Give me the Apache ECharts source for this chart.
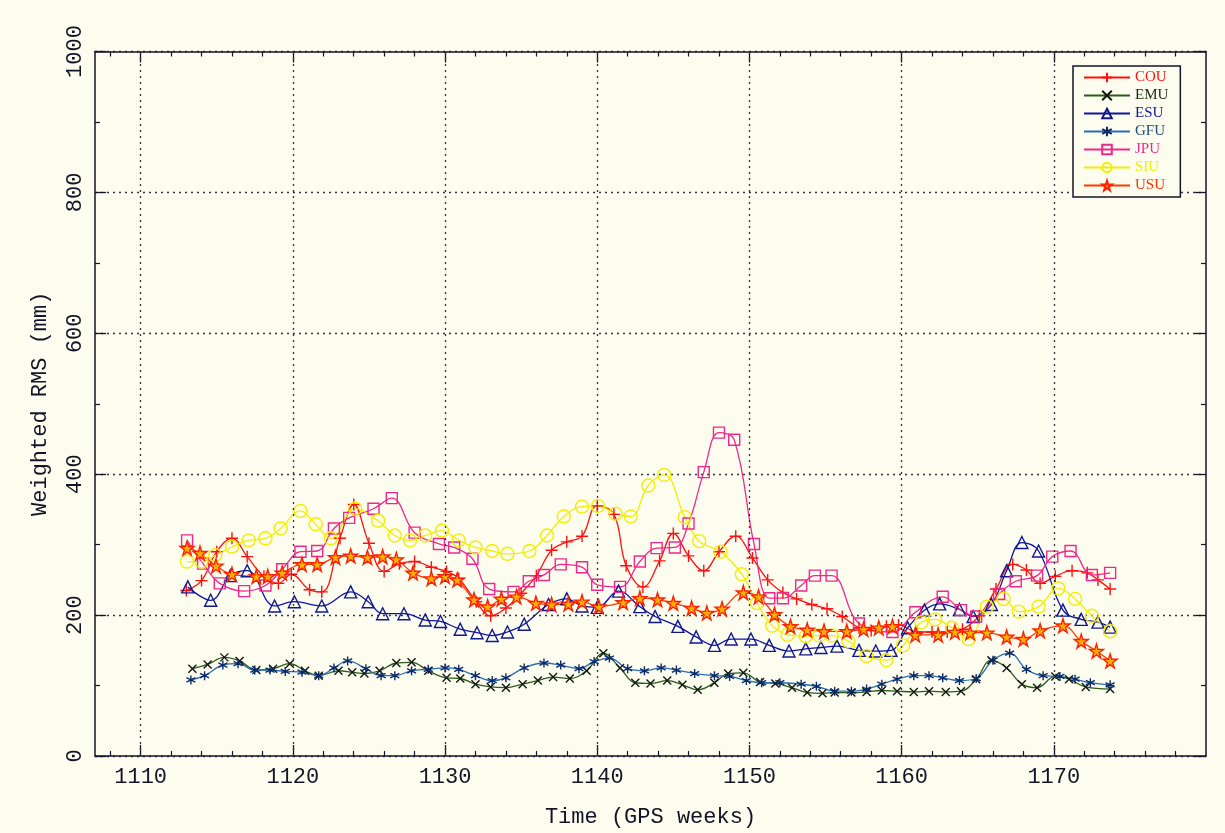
<!DOCTYPE html>
<html>
<head>
<meta charset="utf-8">
<title>Weighted RMS</title>
<script src="https://cdn.jsdelivr.net/npm/echarts@6/dist/echarts.min.js"></script>
<style>
  html, body { margin: 0; padding: 0; background: #fdfdef; }
  #chart { width: 1225px; height: 833px; }
</style>
</head>
<body>
<div id="chart"></div>
<script>
// tick positions (GPS weeks)
const majorWeeks = [1110, 1120, 1130, 1140, 1150, 1160, 1170];
const minorWeeks = [1108, 1112, 1114, 1116, 1118, 1122, 1124, 1126, 1128, 1132, 1134, 1136, 1138,
  1142, 1144, 1146, 1148, 1152, 1154, 1156, 1158, 1162, 1164, 1166, 1168, 1172, 1174, 1176, 1178];

// COU
const couWeeks = [1113.0, 1114.0, 1115.0, 1116.0, 1117.0, 1118.1, 1119.05, 1119.9, 1121.1, 1121.9,
  1123.1, 1124.0, 1125.0, 1126.0, 1127.0, 1128.0, 1129.1, 1130.1, 1130.9, 1132.05,
  1133.0, 1134.0, 1135.0, 1136.0, 1137.0, 1138.0, 1139.0, 1140.0, 1141.1, 1141.9,
  1143.0, 1144.1, 1145.0, 1146.0, 1147.0, 1148.0, 1149.1, 1150.2, 1151.2, 1152.2,
  1153.1, 1154.1, 1155.1, 1156.1, 1157.2, 1158.0, 1159.0, 1159.8, 1161.0, 1162.0,
  1163.0, 1164.0, 1165.1, 1166.2, 1167.3, 1168.2, 1169.1, 1170.1, 1171.2, 1172.2,
  1172.9, 1173.7];
const couRms = [235, 249, 290, 309, 283, 255, 245, 258, 236, 233,
  309, 357, 302, 262, 273, 276, 268, 262, 252, 219,
  199, 210, 231, 256, 292, 304, 312, 355, 343, 270,
  240, 277, 316, 284, 263, 290, 312, 281, 250, 232,
  223, 215, 209, 198, 182, 178, 184, 186, 176, 176,
  176, 180, 199, 237, 272, 264, 245, 255, 263, 260,
  250, 237];

// EMU
const emuWeeks = [1113.4, 1114.4, 1115.5, 1116.5, 1117.6, 1118.7, 1119.8, 1120.8, 1121.7, 1123.0,
  1123.9, 1124.7, 1125.7, 1126.8, 1127.8, 1128.9, 1130.1, 1131.0, 1132.0, 1133.0,
  1134.0, 1135.1, 1136.1, 1137.1, 1138.2, 1139.3, 1140.4, 1141.5, 1142.5, 1143.5,
  1144.6, 1145.6, 1146.6, 1147.7, 1148.6, 1149.6, 1150.7, 1151.7, 1152.8, 1153.8,
  1154.8, 1155.6, 1156.7, 1157.7, 1158.7, 1159.7, 1160.8, 1161.8, 1162.9, 1163.9,
  1164.9, 1165.9, 1166.9, 1167.9, 1168.9, 1170.1, 1171.0, 1172.1, 1173.7];
const emuRms = [124, 130, 140, 135, 122, 124, 131, 121, 114, 121,
  119, 117, 121, 132, 133, 121, 111, 110, 102, 98,
  97, 102, 107, 112, 110, 121, 146, 125, 104, 103,
  107, 101, 94, 104, 117, 118, 105, 103, 97, 90,
  89, 90, 90, 91, 93, 92, 91, 92, 91, 92,
  109, 136, 125, 102, 97, 113, 109, 98, 95];

// ESU
const esuWeeks = [1113.1, 1114.6, 1115.9, 1117.0, 1118.8, 1120.1, 1121.9, 1123.8, 1124.95, 1125.9,
  1127.3, 1128.7, 1129.7, 1131.0, 1132.1, 1133.1, 1134.1, 1135.2, 1136.8, 1138.0,
  1139.0, 1140.0, 1141.4, 1142.8, 1143.8, 1145.3, 1146.5, 1147.7, 1148.8, 1150.1,
  1151.3, 1152.6, 1153.7, 1154.7, 1155.75, 1157.2, 1158.3, 1159.3, 1160.4, 1161.5,
  1162.5, 1163.8, 1164.7, 1165.9, 1166.9, 1167.9, 1169.0, 1170.6, 1171.8, 1172.9,
  1173.7];
const esuRms = [240, 221, 256, 263, 213, 219, 213, 233, 219, 202,
  202, 193, 191, 180, 175, 171, 176, 187, 215, 223,
  213, 211, 234, 212, 198, 184, 169, 157, 166, 166,
  157, 149, 152, 154, 156, 150, 149, 150, 182, 207,
  216, 208, 198, 215, 263, 303, 291, 207, 194, 190,
  183];

// GFU
const gfuWeeks = [1113.3, 1114.2, 1115.4, 1116.4, 1117.5, 1118.5, 1119.5, 1120.6, 1121.7, 1122.7,
  1123.6, 1124.8, 1125.8, 1126.7, 1127.8, 1128.9, 1130.0, 1130.9, 1132.0, 1133.1,
  1134.0, 1135.2, 1136.5, 1137.6, 1138.8, 1139.8, 1140.8, 1142.0, 1143.1, 1144.2,
  1145.2, 1146.4, 1147.7, 1148.7, 1149.8, 1150.8, 1152.0, 1153.4, 1154.4, 1155.6,
  1156.7, 1157.7, 1158.7, 1159.7, 1160.8, 1161.8, 1162.7, 1163.8, 1164.9, 1166.0,
  1167.1, 1168.2, 1169.3, 1170.4, 1171.4, 1172.4, 1173.7];
const gfuRms = [108, 114, 129, 131, 122, 122, 120, 119, 114, 125,
  135, 124, 114, 114, 121, 123, 125, 123, 114, 107,
  111, 125, 132, 129, 124, 134, 139, 124, 121, 125,
  122, 117, 114, 113, 107, 104, 104, 102, 99, 92,
  92, 95, 102, 109, 114, 114, 111, 107, 110, 136,
  146, 123, 114, 113, 109, 104, 101];

// JPU
const jpuWeeks = [1113.05, 1114.1, 1115.2, 1116.8, 1118.2, 1119.3, 1120.5, 1121.6, 1122.7, 1123.7,
  1125.3, 1126.5, 1128.0, 1129.6, 1130.6, 1131.8, 1132.9, 1134.5, 1135.5, 1136.5,
  1137.6, 1139.0, 1140.0, 1141.5, 1142.8, 1143.9, 1145.1, 1146.0, 1147.0, 1148.0,
  1149.0, 1150.3, 1151.3, 1152.2, 1153.4, 1154.3, 1155.4, 1157.2, 1159.4, 1160.9,
  1162.7, 1163.9, 1164.9, 1166.4, 1167.5, 1168.9, 1169.9, 1171.1, 1172.5, 1173.7];
const jpuRms = [306, 273, 245, 234, 242, 265, 290, 291, 323, 338,
  351, 366, 317, 301, 296, 280, 237, 233, 248, 257,
  272, 268, 243, 240, 276, 295, 296, 330, 403, 459,
  449, 301, 224, 224, 242, 256, 256, 188, 176, 204,
  226, 207, 198, 230, 248, 256, 283, 291, 257, 260];

// SIU
const siuWeeks = [1113.05, 1114.0, 1114.9, 1116.0, 1117.1, 1118.2, 1119.2, 1120.5, 1121.5, 1122.5,
  1124.1, 1125.6, 1126.7, 1127.7, 1128.7, 1129.8, 1130.9, 1132.0, 1133.1, 1134.1,
  1135.55, 1136.7, 1137.8, 1139.0, 1140.05, 1141.2, 1142.2, 1143.35, 1144.4, 1145.75,
  1146.7, 1148.1, 1149.5, 1150.5, 1151.5, 1152.5, 1153.7, 1154.6, 1155.4, 1156.5,
  1157.7, 1159.0, 1160.1, 1161.3, 1162.2, 1163.3, 1164.4, 1165.6, 1166.7, 1167.7,
  1169.0, 1170.3, 1171.4, 1172.5, 1173.7];
const siuRms = [276, 276, 285, 297, 306, 309, 323, 348, 329, 309,
  351, 334, 313, 306, 313, 320, 306, 296, 291, 287,
  291, 313, 340, 354, 355, 344, 340, 384, 399, 339,
  305, 290, 258, 217, 185, 172, 170, 171, 171, 163,
  142, 136, 157, 190, 194, 182, 166, 212, 223, 205,
  212, 238, 223, 199, 177];

// USU
const usuWeeks = [1113.05, 1113.9, 1114.95, 1116.0, 1117.6, 1118.35, 1119.3, 1120.6, 1121.6, 1122.8,
  1123.8, 1124.9, 1125.9, 1126.8, 1127.9, 1129.1, 1130.0, 1130.8, 1131.9, 1132.8,
  1133.7, 1134.7, 1135.97, 1137.0, 1138.1, 1139.0, 1140.1, 1141.7, 1142.8, 1143.96,
  1145.0, 1146.2, 1147.2, 1148.2, 1149.6, 1150.6, 1151.65, 1152.7, 1153.8, 1154.9,
  1156.4, 1157.5, 1158.5, 1159.4, 1160.9, 1162.4, 1163.5, 1164.5, 1165.6, 1166.9,
  1168.0, 1169.1, 1170.6, 1171.8, 1172.8, 1173.7];
const usuRms = [295, 288, 270, 258, 255, 255, 260, 272, 272, 282,
  284, 282, 283, 279, 260, 252, 255, 250, 222, 212,
  223, 226, 217, 215, 216, 219, 212, 218, 224, 222,
  217, 210, 203, 209, 232, 226, 201, 184, 179, 177,
  177, 180, 182, 184, 172, 172, 176, 175, 175, 169,
  166, 178, 185, 163, 149, 135];

const pairs = (xs, ys) => xs.map((x, i) => [x, ys[i]]);

const PLUS = 'path://M5,0 L5,10 M0,5 L10,5';
const CROSS = 'path://M0,0 L10,10 M10,0 L0,10';
const ASTER = 'path://M5,0 L5,10 M0.7,2.5 L9.3,7.5 M0.7,7.5 L9.3,2.5';
const STAR = 'path://M50,0 L61,35 L98,35 L68,57 L79,91 L50,70 L21,91 L32,57 L2,35 L39,35 Z';
const clear = 'rgba(0,0,0,0)';

const styles = [
  { name: 'COU', xs: couWeeks, ys: couRms, line: '#ff1010', symbol: PLUS, size: 12, fill: '#ff1010', border: '#ff1010', text: '#ff1010' },
  { name: 'EMU', xs: emuWeeks, ys: emuRms, line: '#2d5a1e', symbol: CROSS, size: 8, fill: '#101810', border: '#101810', text: '#1a2a12' },
  { name: 'ESU', xs: esuWeeks, ys: esuRms, line: '#1016a0', symbol: 'triangle', size: 12, fill: clear, border: '#101890', text: '#10189a' },
  { name: 'GFU', xs: gfuWeeks, ys: gfuRms, line: '#2a6db5', symbol: ASTER, size: 9, fill: '#0c2a6a', border: '#0c2a6a', text: '#1a4a7a' },
  { name: 'JPU', xs: jpuWeeks, ys: jpuRms, line: '#f0288c', symbol: 'rect', size: 11, fill: clear, border: '#f0288c', text: '#f0288c' },
  { name: 'SIU', xs: siuWeeks, ys: siuRms, line: '#f2ee00', symbol: 'circle', size: 13, fill: clear, border: '#f2ee00', text: '#f2ee00' },
  { name: 'USU', xs: usuWeeks, ys: usuRms, line: '#ff3a00', symbol: STAR, size: 14, fill: '#ffb000', border: '#ff2000', text: '#ff3000' }
];

const chart = echarts.init(document.getElementById('chart'));

const axisColor = '#141428';
const labelFont = { fontFamily: 'Liberation Mono', fontSize: 22, color: '#141428' };
const plain = v => String(v);

const xBase = {
  type: 'value', min: 1107, max: 1180,
  axisLine: { show: false },
  axisLabel: { show: false },
  splitLine: { show: false }
};

const option = {
  backgroundColor: '#fdfdef',
  animation: false,
  grid: { left: 95, right: 19, top: 51.5, bottom: 72.5, containLabel: false },
  legend: {
    orient: 'vertical',
    left: 1073, top: 66,
    padding: [4, 12, 4, 10],
    itemGap: 3,
    itemWidth: 46, itemHeight: 12,
    backgroundColor: '#fdfdef',
    borderColor: '#141428', borderWidth: 1.5,
    textStyle: { fontFamily: 'Liberation Serif', fontSize: 15, lineHeight: 15 },
    data: styles.map(s => ({ name: s.name, textStyle: { color: s.text } }))
  },
  xAxis: [
    Object.assign({}, xBase, {
      position: 'bottom',
      name: 'Time (GPS weeks)', nameLocation: 'middle', nameGap: 50,
      nameTextStyle: labelFont,
      axisLine: { show: true, lineStyle: { color: axisColor, width: 1.5 } },
      axisTick: { show: true, inside: true, length: 11, customValues: majorWeeks, lineStyle: { color: axisColor, width: 1.3 } },
      axisLabel: { show: true, customValues: majorWeeks, margin: 10, formatter: plain, ...labelFont }
    }),
    Object.assign({}, xBase, {
      position: 'bottom',
      axisTick: { show: true, inside: true, length: 5, customValues: minorWeeks, lineStyle: { color: axisColor, width: 1.2 } }
    }),
    Object.assign({}, xBase, {
      position: 'top',
      axisLine: { show: true, lineStyle: { color: axisColor, width: 1.5 } },
      axisTick: { show: true, inside: true, length: 11, customValues: majorWeeks, lineStyle: { color: axisColor, width: 1.3 } }
    }),
    Object.assign({}, xBase, {
      position: 'top',
      axisTick: { show: true, inside: true, length: 5, customValues: minorWeeks, lineStyle: { color: axisColor, width: 1.2 } }
    })
  ],
  yAxis: [
    {
      type: 'value', position: 'left', min: 0, max: 1000, interval: 200,
      name: 'Weighted RMS (mm)', nameLocation: 'middle', nameGap: 44, nameRotate: 90,
      nameTextStyle: labelFont,
      axisLine: { show: true, lineStyle: { color: axisColor, width: 1.5 } },
      axisTick: { show: true, inside: true, length: 11, lineStyle: { color: axisColor, width: 1.3 } },
      minorTick: { show: true, splitNumber: 2, length: 5, lineStyle: { color: axisColor, width: 1.2 } },
      axisLabel: { rotate: 90, margin: 9, formatter: plain, ...labelFont },
      splitLine: { show: true, lineStyle: { color: '#333344', width: 1.3, type: [2, 4] } }
    },
    {
      type: 'value', position: 'right', min: 0, max: 1000, interval: 200,
      axisLine: { show: true, lineStyle: { color: axisColor, width: 1.5 } },
      axisTick: { show: true, inside: true, length: 11, lineStyle: { color: axisColor, width: 1.3 } },
      minorTick: { show: true, splitNumber: 2, length: 5, lineStyle: { color: axisColor, width: 1.2 } },
      axisLabel: { show: false },
      splitLine: { show: false }
    }
  ],
  series: [
    {
      type: 'line', name: 'grid', data: [], silent: true,
      markLine: {
        silent: true, symbol: ['none', 'none'], label: { show: false },
        lineStyle: { color: '#333344', width: 1.3, type: [2, 4] },
        data: majorWeeks.map(w => ({ xAxis: w }))
      }
    }
  ].concat(styles.map(s => ({
    type: 'line',
    name: s.name,
    data: pairs(s.xs, s.ys),
    smooth: 0.4,
    symbol: s.symbol,
    symbolSize: s.size,
    showAllSymbol: true,
    lineStyle: { color: s.line, width: 1.3 },
    itemStyle: { color: s.fill, borderColor: s.border, borderWidth: 1.4 },
    emphasis: { disabled: true }
  })))
};

chart.setOption(option);
</script>
</body>
</html>
